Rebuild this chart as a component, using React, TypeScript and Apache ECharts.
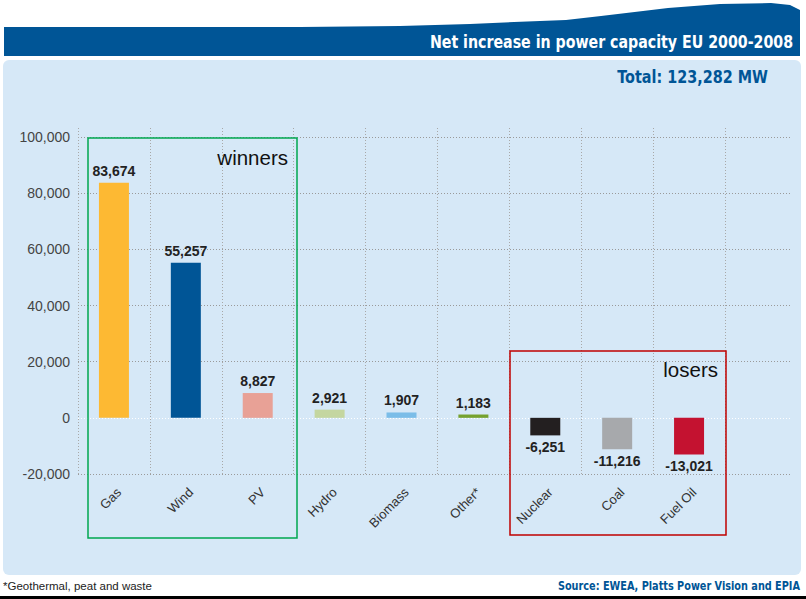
import React, { useEffect, useRef } from "react";
import * as echarts from "echarts";

const categories = ["Gas", "Wind", "PV", "Hydro", "Biomass", "Other*", "Nuclear", "Coal", "Fuel Oil"];
const values = [83674, 55257, 8827, 2921, 1907, 1183, -6251, -11216, -13021];
const barColors = ["#FDB933", "#005596", "#E8A196", "#C4D6A0", "#7BBDE8", "#76A22F", "#231F20", "#A7A9AC", "#C41230"];
const yTicks = { min: -20000, max: 100000, interval: 20000 };
const titleText = "Net increase in power capacity EU 2000-2008";
const totalText = "Total: 123,282 MW";
const footnoteText = "*Geothermal, peat and waste";
const sourceText = "Source: EWEA, Platts Power Vision and EPIA";

const NARROW = "'Liberation Sans Narrow', 'Arial Narrow', 'DejaVu Sans Condensed', sans-serif";
const SANS = "'Liberation Sans', Arial, sans-serif";
const fmt = (v: number) => v.toLocaleString("en-US");

export default function App() {
  const ref = useRef<HTMLDivElement>(null);
  useEffect(() => {
    document.body.style.margin = "0";
    const chart = echarts.init(ref.current!, undefined, { renderer: "svg" });
    const gridBottom = 474;
    const bigTop = 137;
    const barTop = 128;
    const pxPerUnit = (gridBottom - bigTop) / (yTicks.max - yTicks.min);
    const barMax = yTicks.min + (gridBottom - barTop) / pxPerUnit;

    const splitColors = [] as string[];
    for (let v = yTicks.min; v <= yTicks.max; v += yTicks.interval) splitColors.push(v === 0 ? "#ffffff" : "#9a9a9a");

    const rightText = (text: string, x: number, y: number, style: any, extra: any = {}) => ({
      type: "text",
      x,
      y,
      ...extra,
      style: {
        text,
        align: "right", verticalAlign: "middle", textAlign: "right", textVerticalAlign: "middle",
        ...style,
      },
    });

    chart.setOption({
      animation: false,
      backgroundColor: "#ffffff",
      grid: [
        { left: 78, right: 806 - 725, top: barTop, bottom: 599 - gridBottom },
        { left: 78, right: 806 - 791, top: bigTop, bottom: 599 - gridBottom },
        { left: 83, right: 806 - 730, top: barTop, bottom: 599 - gridBottom },
      ],
      xAxis: [
        {
          type: "category",
          gridIndex: 0,
          data: categories,
          boundaryGap: true,
          axisLine: { show: false },
          axisTick: { show: false },
          axisLabel: { show: false },
          splitLine: { show: true, lineStyle: { color: "#a8a8a8", type: [1, 2], width: 1 } },
        },
        { type: "value", gridIndex: 1, show: false, min: 0, max: 1 },
        {
          type: "category",
          gridIndex: 2,
          data: categories,
          boundaryGap: true,
          axisLine: { show: false },
          axisTick: { show: false },
          splitLine: { show: false },
          axisLabel: {
            rotate: 45,
            margin: 16,
            color: "#333",
            fontFamily: SANS,
            fontSize: 13,
            interval: 0,
          },
        },
      ],
      yAxis: [
        {
          type: "value",
          gridIndex: 0,
          min: yTicks.min,
          max: barMax,
          show: false,
          splitLine: { show: false },
        },
        {
          type: "value",
          gridIndex: 1,
          min: yTicks.min,
          max: yTicks.max,
          interval: yTicks.interval,
          axisLine: { show: false },
          axisTick: { show: false },
          axisLabel: { color: "#444", fontFamily: SANS, fontSize: 14, margin: 8, formatter: (v: number) => fmt(v) },
          splitLine: { show: true, lineStyle: { color: splitColors, type: [1, 2], width: 1 } },
        },
        { type: "value", gridIndex: 2, show: false, min: 0, max: 1, splitLine: { show: false } },
      ],
      series: [
        {
          type: "bar",
          xAxisIndex: 0,
          yAxisIndex: 0,
          barWidth: 30,
          data: values.map((v, i) => ({
            value: v,
            itemStyle: { color: barColors[i] },
            label: { position: v >= 0 ? "top" : "bottom" },
          })),
          label: {
            show: true,
            distance: 5,
            color: "#222",
            fontFamily: SANS,
            fontWeight: "bold",
            fontSize: 14,
            formatter: (p: any) => fmt(p.value),
          },
        },
      ],
      graphic: [
        {
          type: "rect",
          z: -100,
          shape: { x: 3, y: 60, width: 798, height: 515, r: 6 },
          style: { fill: "#D6E8F7" },
        },
        {
          type: "polygon",
          z: -100,
          shape: {
            points: [
              [4, 27], [300, 27], [400, 26], [470, 24], [514, 22], [566, 20], [601, 16], [643, 11],
              [668, 8], [720, 4], [771, 3], [790, 5], [800, 10], [800, 56], [4, 56],
            ],
          },
          style: { fill: "#005596" },
        },
        rightText(titleText, 793, 42, { fill: "#ffffff", fontFamily: NARROW, fontWeight: "bold", fontSize: 18 }, { scaleX: 0.877 }),
        rightText(totalText, 768, 77, { fill: "#005596", fontFamily: NARROW, fontWeight: "bold", fontSize: 18 }, { scaleX: 0.89 }),
        {
          type: "rect",
          z: 100,
          shape: { x: 88, y: 138, width: 209, height: 400 },
          style: { fill: "none", stroke: "#00A650", lineWidth: 1.5 },
        },
        rightText("winners", 288, 157, { fill: "#111", fontFamily: SANS, fontSize: 20.5 }, { z: 100 }),
        {
          type: "rect",
          z: 100,
          shape: { x: 510, y: 351, width: 216, height: 184 },
          style: { fill: "none", stroke: "#C00000", lineWidth: 1.5 },
        },
        rightText("losers", 718, 369, { fill: "#111", fontFamily: SANS, fontSize: 20.5 }, { z: 100 }),
        {
          type: "text",
          x: 3,
          y: 586,
          style: {
            text: footnoteText, fill: "#222", fontFamily: SANS, fontSize: 11.5,
            align: "left", verticalAlign: "middle", textAlign: "left", textVerticalAlign: "middle",
          },
        },
        rightText(sourceText, 800, 586, { fill: "#005596", fontFamily: NARROW, fontWeight: "bold", fontSize: 12 }, { scaleX: 0.9 }),
        {
          type: "rect",
          shape: { x: 0, y: 596, width: 806, height: 3 },
          style: { fill: "#000" },
        },
      ],
    });
    return () => chart.dispose();
  }, []);
  return <div ref={ref} style={{ position: "fixed", left: 0, top: 0, width: 806, height: 599 }} />;
}
